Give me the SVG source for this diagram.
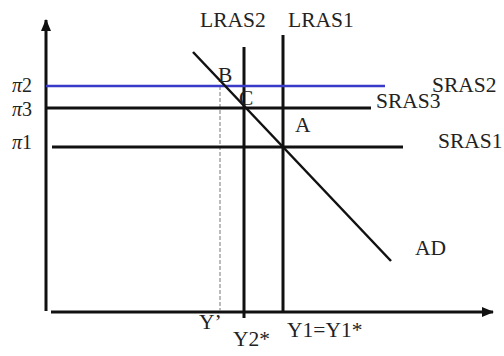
<svg xmlns="http://www.w3.org/2000/svg" width="504" height="356" viewBox="0 0 504 356">
<style>
text{font-family:"Liberation Serif","Times New Roman",serif;font-size:21.5px;fill:#222}
.pi{font-size:20px}
.ax{stroke:#111;stroke-width:3;fill:none}
.ln{stroke:#111;stroke-width:3;fill:none}
.it{font-style:italic}
</style>
<defs>
<marker id="arr" viewBox="0 0 12 10" refX="11" refY="5" markerWidth="12" markerHeight="10" markerUnits="userSpaceOnUse" orient="auto">
<path d="M0,0 L12,5 L0,10 Z" fill="#111"/>
</marker>
</defs>
<g id="connectors">
<line class="ax" x1="46" y1="311" x2="46" y2="20" marker-end="url(#arr)"/>
<line class="ax" x1="51" y1="312" x2="493" y2="312" marker-end="url(#arr)"/>
<line x1="220" y1="86" x2="220" y2="311" stroke="#777" stroke-width="1" stroke-dasharray="4,2"/>
<line class="ln" x1="46" y1="108" x2="371" y2="108"/>
<line class="ln" x1="52" y1="147" x2="403" y2="147"/>
<line class="ln" x1="244" y1="47" x2="244" y2="318"/>
<line class="ln" x1="283" y1="35" x2="283" y2="312"/>
<line x1="46" y1="86" x2="385" y2="86" stroke="#3a3ac8" stroke-width="2.5"/>
<line x1="193" y1="52" x2="391" y2="261" stroke="#111" stroke-width="2.5"/>
</g>
<g id="labels">
<text x="200" y="27">LRAS2</text>
<text x="288" y="27">LRAS1</text>
<text class="pi" x="12" y="92"><tspan class="it">π</tspan>2</text>
<text class="pi" x="12" y="116"><tspan class="it">π</tspan>3</text>
<text class="pi" x="12" y="149"><tspan class="it">π</tspan>1</text>
<text x="432" y="92">SRAS2</text>
<text x="376" y="108">SRAS3</text>
<text x="438" y="148">SRAS1</text>
<text x="218" y="82">B</text>
<text x="239" y="105">C</text>
<text x="295" y="132">A</text>
<text x="415" y="255">AD</text>
<text x="199" y="329">Y’</text>
<text x="233" y="346">Y2*</text>
<text x="287" y="337">Y1=Y1*</text>
</g>
</svg>
